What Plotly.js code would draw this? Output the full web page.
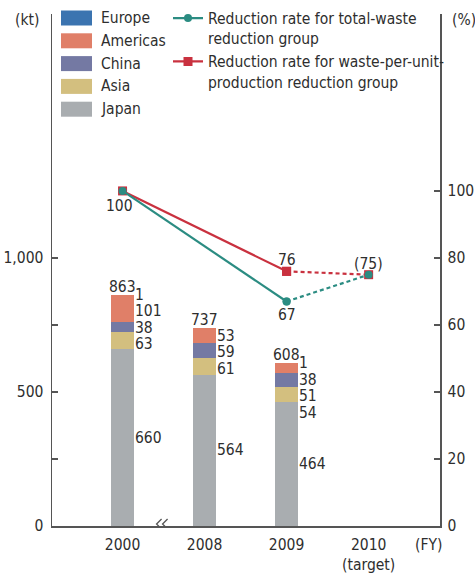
<!DOCTYPE html>
<html>
<head>
<meta charset="utf-8">
<script src="https://cdn.plot.ly/plotly-3.0.1.min.js"></script>
<style>html,body{margin:0;padding:0;background:#fff;}#chart{width:475px;height:574px;}</style>
</head>
<body>
<div id="chart"></div>
<script>
// ---- data ----
var years = ['2000', '2008', '2009', '2010'];
var yearLabels = ['2000', '2008', '2009', '2010<br>(target)'];
var barYears = ['2000', '2008', '2009'];
var japan = [660, 564, 464];
var asia = [63, 61, 54];
var china = [38, 59, 51];
var americas = [101, 53, 38];
var europe = [1, 0, 1];
var totals = [863, 737, 608];
var legendOrder = ['Europe', 'Americas', 'China', 'Asia', 'Japan'];

var totalWasteYears = ['2000', '2009'];
var totalWasteRate = [100, 67];
var totalWasteTargetYears = ['2009', '2010'];
var totalWasteTarget = [67, 75];
var perUnitYears = ['2000', '2009'];
var perUnitRate = [100, 76];
var perUnitTargetYears = ['2009', '2010'];
var perUnitTarget = [76, 75];

// ---- styling ----
var FONT = 'DejaVu Sans Condensed, Liberation Sans Narrow, Arial Narrow, sans-serif';
var FS = 15.5;
var TXT = '#2e2e2e';
var AX = '#555555';
var COLORS = {Europe: '#3b74b0', Americas: '#e07f68', China: '#7479a3', Asia: '#d3bf7f', Japan: '#a9adb0'};
var TEAL = '#2b8c82';
var RED = '#c9313f';

var W = 475, H = 574;
var M = {l: 52, r: 35, t: 14, b: 48, autoexpand: false};
var PW = W - M.l - M.r, PH = H - M.t - M.b;
var YMAX = 1910;
var Y2MAX = YMAX / 12.5;
var BARW = 0.28;
function fnt() { return {family: FONT, size: FS, color: TXT}; }
function paperX(px) { return (px - M.l) / PW; }
function paperY(py) { return (H - M.b - py) / PH; }

function idx(y) { return years.indexOf(y); }
var barX = barYears.map(idx);

var series = [
  {name: 'Japan', vals: japan},
  {name: 'Asia', vals: asia},
  {name: 'China', vals: china},
  {name: 'Americas', vals: americas},
  {name: 'Europe', vals: europe}
];

var traces = [];
series.forEach(function (s) {
  traces.push({
    type: 'bar', x: barX, y: s.vals, width: BARW, name: s.name,
    marker: {color: COLORS[s.name], line: {width: 0}},
    showlegend: false, hoverinfo: 'skip'
  });
});

// line traces on right axis
traces.push({
  type: 'scatter', mode: 'lines+markers', x: perUnitYears.map(idx), y: perUnitRate, yaxis: 'y2',
  name: 'Reduction rate for waste-per-unit-<br>production reduction group',
  line: {color: RED, width: 2.2}, marker: {symbol: 'square', size: 9, color: RED},
  legendrank: 2
});
traces.push({
  type: 'scatter', mode: 'lines+markers', x: perUnitTargetYears.map(idx), y: perUnitTarget, yaxis: 'y2',
  line: {color: RED, width: 2.2, dash: '4px,3px'}, marker: {symbol: 'square', size: 9, color: RED},
  showlegend: false
});
traces.push({
  type: 'scatter', mode: 'lines+markers', x: totalWasteYears.map(idx), y: totalWasteRate, yaxis: 'y2',
  name: 'Reduction rate for total-waste<br>reduction group',
  line: {color: TEAL, width: 2.2}, marker: {symbol: 'circle', size: 8, color: TEAL},
  legendrank: 1
});
traces.push({
  type: 'scatter', mode: 'lines+markers', x: totalWasteTargetYears.map(idx), y: totalWasteTarget, yaxis: 'y2',
  line: {color: TEAL, width: 2.2, dash: '4px,3px'}, marker: {symbol: 'circle', size: 8, color: TEAL},
  showlegend: false
});

// ---- annotations ----
var ann = [];
var ppu = PH / YMAX;             // pixels per kt
var gap = 16.5 / ppu;            // minimum label spacing in kt
barX.forEach(function (x, i) {
  ann.push({x: x, y: totals[i], xref: 'x', yref: 'y', text: String(totals[i]),
    showarrow: false, yanchor: 'bottom', xanchor: 'center', yshift: -2, borderpad: 0, font: fnt()});
  var cum = [];
  var base = 0;
  series.forEach(function (s) { cum.push([base, base + s.vals[i]]); base += s.vals[i]; });
  var prev = Infinity;
  for (var k = series.length - 1; k >= 0; k--) {
    var v = series[k].vals[i];
    if (!v) continue;
    var mid = (cum[k][0] + cum[k][1]) / 2;
    var yl = Math.min(mid, prev - gap);
    prev = yl;
    ann.push({x: x + BARW / 2, y: yl, xref: 'x', yref: 'y', text: String(v),
      showarrow: false, xanchor: 'left', yanchor: 'middle', xshift: 0, borderpad: 0, font: fnt()});
  }
});
// line labels
ann.push({x: idx(totalWasteYears[0]), y: totalWasteRate[0], xref: 'x', yref: 'y2', text: String(totalWasteRate[0]),
  showarrow: false, yanchor: 'top', xanchor: 'center', yshift: -4, xshift: -3, font: fnt()});
ann.push({x: idx(perUnitYears[1]), y: perUnitRate[1], xref: 'x', yref: 'y2', text: String(perUnitRate[1]),
  showarrow: false, yanchor: 'bottom', xanchor: 'center', yshift: 0, font: fnt()});
ann.push({x: idx(totalWasteYears[1]), y: totalWasteRate[1], xref: 'x', yref: 'y2', text: String(totalWasteRate[1]),
  showarrow: false, yanchor: 'top', xanchor: 'center', yshift: -2, font: fnt()});
ann.push({x: idx(perUnitTargetYears[1]), y: perUnitTarget[1], xref: 'x', yref: 'y2', text: '(' + perUnitTarget[1] + ')',
  showarrow: false, yanchor: 'bottom', xanchor: 'center', yshift: 0, font: fnt()});
// unit labels
ann.push({x: 0, y: 1, xref: 'paper', yref: 'paper', text: '(kt)', showarrow: false,
  xanchor: 'right', yanchor: 'middle', xshift: -11, yshift: -6, font: fnt()});
ann.push({x: 1, y: 1, xref: 'paper', yref: 'paper', text: '(%)', showarrow: false,
  xanchor: 'left', yanchor: 'middle', xshift: 10, yshift: -6, font: fnt()});
ann.push({x: 1, y: 0, xref: 'paper', yref: 'paper', text: '(FY)', showarrow: false,
  xanchor: 'right', yanchor: 'middle', xshift: 4, yshift: -19, font: fnt()});

// bar legend (swatches + labels)
var shapes = [];
legendOrder.forEach(function (n, j) {
  var cy = 18 + j * 22.8;
  shapes.push({type: 'rect', xref: 'paper', yref: 'paper',
    x0: paperX(61), x1: paperX(92), y0: paperY(cy - 7.5), y1: paperY(cy + 7.5),
    fillcolor: COLORS[n], line: {width: 0}});
  ann.push({x: paperX(99), y: paperY(cy), xref: 'paper', yref: 'paper', text: n, showarrow: false,
    xanchor: 'left', yanchor: 'middle', font: fnt()});
});

// axis break mark
shapes.push(
  {type: 'path', xref: 'x', yref: 'y', xsizemode: 'pixel', ysizemode: 'pixel', xanchor: 0.5, yanchor: 0,
    path: 'M-5,3 L3,3 L3,-3 L-5,-3 Z', fillcolor: '#ffffff', line: {width: 0}},
  {type: 'path', xref: 'x', yref: 'y', xsizemode: 'pixel', ysizemode: 'pixel', xanchor: 0.5, yanchor: 0,
    path: 'M-2,7 L-7,2 L-3,-2 L-7,-6', line: {color: AX, width: 1.3}},
  {type: 'path', xref: 'x', yref: 'y', xsizemode: 'pixel', ysizemode: 'pixel', xanchor: 0.5, yanchor: 0,
    path: 'M4,7 L-1,2 L3,-2 L-1,-6', line: {color: AX, width: 1.3}}
);

var layout = {
  width: W, height: H,
  margin: M,
  paper_bgcolor: '#ffffff', plot_bgcolor: '#ffffff',
  font: fnt(),
  barmode: 'stack',
  showlegend: true,
  xaxis: {
    range: [-0.86, 3.87], tickvals: years.map(idx), ticktext: yearLabels, automargin: false,
    showline: true, linecolor: AX, linewidth: 1.5, ticks: '', showgrid: false, zeroline: false,
    ticklabelstandoff: 4, tickfont: fnt()
  },
  yaxis: {
    range: [0, YMAX], tickvals: [0, 250, 500, 750, 1000], ticktext: ['0', '', '500', '', '1,000'],
    ticks: 'inside', ticklen: 6, tickcolor: AX, tickwidth: 1.3, automargin: false,
    showline: true, linecolor: AX, linewidth: 1.5, showgrid: false, zeroline: false,
    ticklabelstandoff: 4, tickfont: fnt()
  },
  yaxis2: {
    overlaying: 'y', side: 'right', range: [0, Y2MAX], tickvals: [0, 20, 40, 60, 80, 100],
    ticks: 'inside', ticklen: 6, tickcolor: AX, tickwidth: 1.3, automargin: false,
    showline: true, linecolor: AX, linewidth: 1.5, showgrid: false, zeroline: false,
    ticklabelstandoff: 3, tickfont: fnt()
  },
  legend: {
    x: paperX(168), y: 1.0244, xanchor: 'left', yanchor: 'top', bgcolor: 'rgba(0,0,0,0)', valign: 'top',
    font: fnt(), tracegroupgap: 0, itemwidth: 30, traceorder: 'normal'
  },
  annotations: ann,
  shapes: shapes
};

Plotly.newPlot('chart', traces, layout, {displayModeBar: false, staticPlot: true});
</script>
</body>
</html>
